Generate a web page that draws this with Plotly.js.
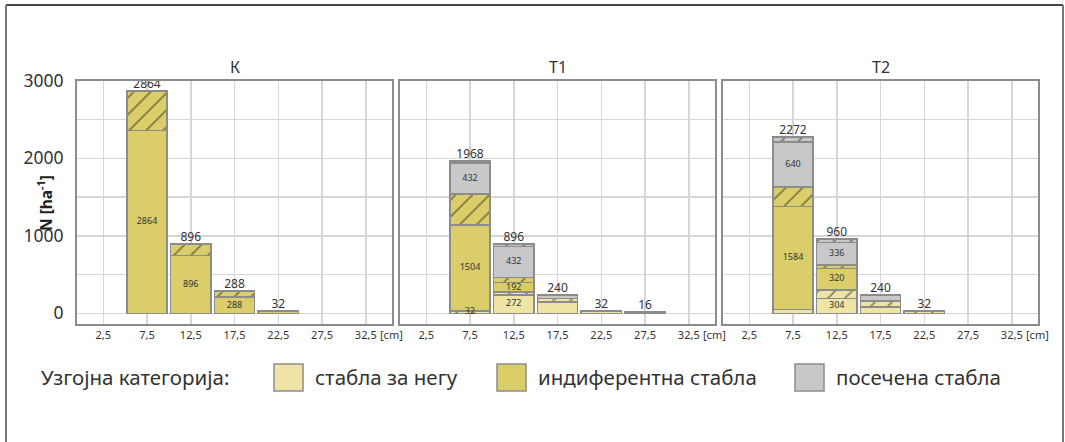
<!DOCTYPE html>
<html><head><meta charset="utf-8">
<script src="https://cdn.plot.ly/plotly-3.0.1.min.js"></script>
<style>html,body{margin:0;padding:0;background:#fff}#chart{width:1065px;height:442px}</style>
</head><body><div id="chart"></div>
<script>
// ---------- data ----------
const diameters = [7.5, 12.5, 17.5, 22.5, 27.5];
const tickValues = [2.5, 7.5, 12.5, 17.5, 22.5, 27.5, 32.5];
const tickLabels = ['2,5', '7,5', '12,5', '17,5', '22,5', '27,5', '32,5'];
const yTickValues = [0, 1000, 2000, 3000];
const yTickLabels = ['0', '1000', '2000', '3000'];
const yMinorValues = [500, 1500, 2500];
const panelNames = ['К', 'Т1', 'Т2'];
const categoryNames = ['стабла за негу', 'индиферентна стабла', 'посечена стабла'];
const legendTitle = 'Узгојна категорија:';
const unitLabel = '[cm]';
const yTitle = '<b>N [ha<sup>-1</sup>]</b>';

// Panel К
const kLightSolid  = [0, 0, 0, 0, 0];
const kLightHatch  = [0, 0, 0, 0, 0];
const kYellowSolid = [2360, 744, 208, 32, 0];
const kYellowHatch = [504, 152, 80, 0, 0];
const kGraySolid   = [0, 0, 0, 0, 0];
const kGrayHatch   = [0, 0, 0, 0, 0];
const kLabelLight  = [null, null, null, null, null];
const kLabelYellow = [2864, 896, 288, null, null];
const kLabelGray   = [null, null, null, null, null];
const kTotals      = [2864, 896, 288, 32, null];

// Panel Т1
const t1LightSolid  = [0, 240, 144, 32, 16];
const t1LightHatch  = [32, 32, 48, 0, 0];
const t1YellowSolid = [1104, 128, 0, 0, 0];
const t1YellowHatch = [400, 64, 0, 0, 0];
const t1GraySolid   = [400, 400, 48, 0, 0];
const t1GrayHatch   = [32, 32, 0, 0, 0];
const t1LabelLight  = [32, 272, null, null, null];
const t1LabelYellow = [1504, 192, null, null, null];
const t1LabelGray   = [432, 432, null, null, null];
const t1Totals      = [1968, 896, 240, 32, 16];

// Panel Т2
const t2LightSolid  = [48, 192, 80, 0, 0];
const t2LightHatch  = [0, 112, 80, 32, 0];
const t2YellowSolid = [1328, 272, 0, 0, 0];
const t2YellowHatch = [256, 48, 0, 0, 0];
const t2GraySolid   = [576, 288, 80, 0, 0];
const t2GrayHatch   = [64, 48, 0, 0, 0];
const t2LabelLight  = [null, 304, null, null, null];
const t2LabelYellow = [1584, 320, null, null, null];
const t2LabelGray   = [640, 336, null, null, null];
const t2Totals      = [2272, 960, 240, 32, null];

// ---------- styling ----------
const colLight = '#efe3a6', colYellow = '#dacd6a', colGray = '#c8c8cb';
const outline = '#8c8c8c';
const FONT = 'Noto Sans, Open Sans, sans-serif';
const W = 1065, H = 442;
const px = v => v / W, py = v => 1 - v / H;
const xDomains = [[77, 392], [400, 715], [723, 1038]];
const yDomain = [py(324), py(80.7)];

const panels = [
  {segs: [kLightSolid, kLightHatch, kYellowSolid, kYellowHatch, kGraySolid, kGrayHatch],
   labels: [kLabelLight, kLabelYellow, kLabelGray], totals: kTotals},
  {segs: [t1LightSolid, t1LightHatch, t1YellowSolid, t1YellowHatch, t1GraySolid, t1GrayHatch],
   labels: [t1LabelLight, t1LabelYellow, t1LabelGray], totals: t1Totals},
  {segs: [t2LightSolid, t2LightHatch, t2YellowSolid, t2YellowHatch, t2GraySolid, t2GrayHatch],
   labels: [t2LabelLight, t2LabelYellow, t2LabelGray], totals: t2Totals}
];
const segColors = [colLight, colLight, colYellow, colYellow, colGray, colGray];
const segHatched = [false, true, false, true, false, true];

const traces = [];
const layout = {
  width: W, height: H, margin: {l: 0, r: 0, t: 0, b: 0},
  paper_bgcolor: '#fff', plot_bgcolor: '#fff',
  barmode: 'stack', showlegend: false,
  font: {family: FONT, color: '#333'},
  annotations: [], shapes: []
};

panels.forEach((p, i) => {
  const sx = i === 0 ? '' : String(i + 1);
  const xa = 'x' + sx, ya = 'y' + sx;
  p.segs.forEach((vals, s) => {
    const tr = {
      type: 'bar', x: diameters, y: vals.map(v => v > 0 ? v : null),
      xaxis: xa, yaxis: ya, width: 4.6, hoverinfo: 'skip',
      marker: {color: segColors[s], line: {color: outline, width: 1.6}}
    };
    if (segHatched[s]) {
      tr.marker.pattern = {shape: '/', fgcolor: '#000', bgcolor: segColors[s],
                           size: 12, solidity: 0.12, fillmode: 'overlay'};
    }
    traces.push(tr);
  });
  // inside labels: centred in the category's solid part (or hatched part if no solid)
  const lx = [], ly = [], lt = [];
  p.labels.forEach((labs, c) => {
    labs.forEach((lab, j) => {
      if (lab === null) return;
      let base = 0;
      for (let s = 0; s < 2 * c; s++) base += p.segs[s][j];
      const solid = p.segs[2 * c][j], hatch = p.segs[2 * c + 1][j];
      const mid = solid > 0 ? base + solid / 2 : base + solid + hatch / 2;
      lx.push(diameters[j]); ly.push(mid); lt.push(String(lab));
    });
  });
  traces.push({type: 'scatter', mode: 'text', x: lx, y: ly, text: lt,
    xaxis: xa, yaxis: ya, hoverinfo: 'skip', cliponaxis: false,
    textfont: {size: 9, color: '#333', family: FONT}});
  // totals above bars
  const tx = [], ty = [], tt = [];
  p.totals.forEach((t, j) => { if (t !== null) { tx.push(diameters[j]); ty.push(t); tt.push(String(t)); } });
  traces.push({type: 'scatter', mode: 'text', x: tx, y: ty, text: tt, textposition: 'top center',
    xaxis: xa, yaxis: ya, hoverinfo: 'skip', cliponaxis: false,
    textfont: {size: 12, color: '#333', family: FONT}});

  layout['xaxis' + sx] = {
    domain: [px(xDomains[i][0]), px(xDomains[i][1])], range: [-0.5, 35.5], anchor: ya,
    tickmode: 'array', tickvals: tickValues, ticktext: tickLabels, ticks: '',
    showgrid: true, gridcolor: '#d6d6d6', gridwidth: 1.5, zeroline: false,
    showline: true, mirror: true, linecolor: outline, linewidth: 2,
    tickfont: {size: 11, color: '#333', family: FONT}, fixedrange: true
  };
  layout['yaxis' + sx] = {
    domain: yDomain, range: [-137.5, 3000], anchor: xa,
    tickmode: 'array', tickvals: yTickValues, ticktext: yTickLabels, ticks: '',
    minor: {tickmode: 'array', tickvals: yMinorValues, showgrid: true, gridcolor: '#d6d6d6', gridwidth: 1.5, ticks: ''},
    showticklabels: i === 0, ticklabelstandoff: 8,
    showgrid: true, gridcolor: '#d6d6d6', gridwidth: 1.5, zeroline: false,
    showline: true, mirror: true, linecolor: outline, linewidth: 2,
    tickfont: {size: 17.5, color: '#333', family: FONT}, fixedrange: true
  };
  // panel title
  layout.annotations.push({xref: 'paper', yref: 'paper',
    x: px((xDomains[i][0] + xDomains[i][1]) / 2), y: py(67), xanchor: 'center', yanchor: 'middle',
    text: panelNames[i], showarrow: false, font: {size: 16, color: '#333', family: FONT}});
  // [cm] unit after last tick
  layout.annotations.push({xref: xa, yref: 'paper', x: 32.5, y: py(334),
    xanchor: 'left', yanchor: 'middle', xshift: 12, text: unitLabel, showarrow: false,
    font: {size: 11, color: '#333', family: FONT}});
});

// y-axis title
layout.annotations.push({xref: 'paper', yref: 'paper', x: px(45), y: py(203),
  xanchor: 'center', yanchor: 'middle', textangle: -90, text: yTitle, showarrow: false,
  font: {size: 15.5, color: '#222', family: FONT}});

// legend
const legendBoxes = [274, 497, 795];
layout.annotations.push({xref: 'paper', yref: 'paper', x: px(39), y: py(377),
  xanchor: 'left', yanchor: 'middle', text: legendTitle, showarrow: false,
  font: {size: 20.5, color: '#333', family: FONT}});
[colLight, colYellow, colGray].forEach((c, k) => {
  const x0 = legendBoxes[k];
  layout.shapes.push({type: 'rect', xref: 'paper', yref: 'paper',
    x0: px(x0), x1: px(x0 + 29), y0: py(391), y1: py(364),
    fillcolor: c, line: {color: outline, width: 1.5}});
  layout.annotations.push({xref: 'paper', yref: 'paper', x: px(x0 + 39), y: py(377),
    xanchor: 'left', yanchor: 'middle', text: categoryNames[k], showarrow: false,
    font: {size: 20.5, color: '#333', family: FONT}});
});

// outer frame
layout.shapes.push({type: 'line', xref: 'paper', yref: 'paper', x0: px(6), x1: px(1063), y0: py(5), y1: py(5), line: {color: '#444', width: 2}});
layout.shapes.push({type: 'line', xref: 'paper', yref: 'paper', x0: px(6), x1: px(6), y0: py(5), y1: 0, line: {color: '#777', width: 2}});
layout.shapes.push({type: 'line', xref: 'paper', yref: 'paper', x0: px(1063), x1: px(1063), y0: py(5), y1: 0, line: {color: '#777', width: 2}});

Plotly.newPlot('chart', traces, layout, {staticPlot: true, displayModeBar: false});
</script>
</body></html>
